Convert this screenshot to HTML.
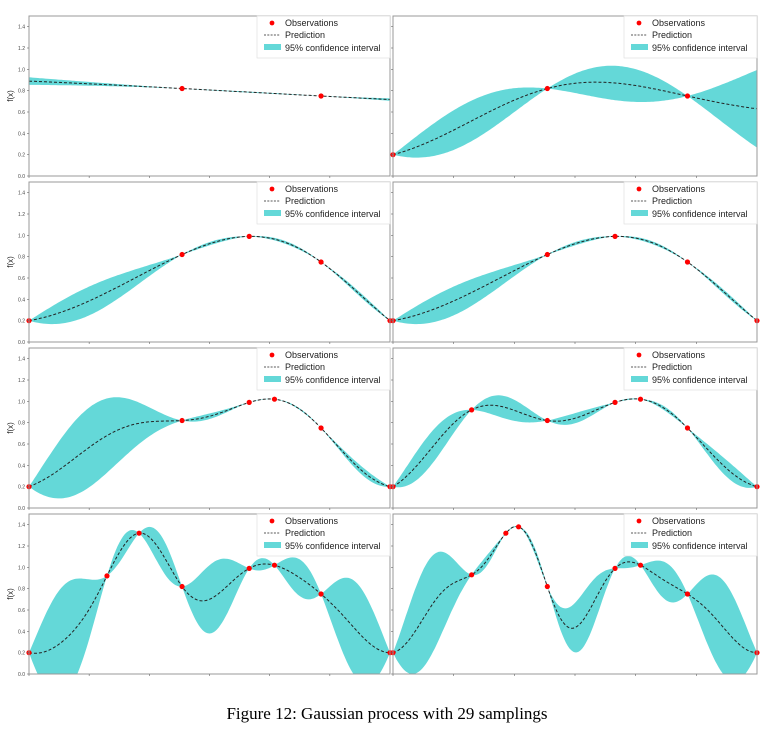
<!DOCTYPE html>
<html><head><meta charset="utf-8"><style>
body{margin:0;background:#fff;width:773px;height:732px;overflow:hidden}
svg{display:block}
</style></head><body>
<svg id="fig" width="773" height="732" viewBox="0 0 773 732" font-family="Liberation Sans, sans-serif"></svg>
<script>
// observation data per panel (x normalized 0..1, y = f(x))
const panelObsX = [
  [0.424, 0.809],
  [0.0, 0.424, 0.809],
  [0.0, 0.424, 0.61, 0.809, 1.0],
  [0.0, 0.424, 0.61, 0.809, 1.0],
  [0.0, 0.424, 0.61, 0.68, 0.809, 1.0],
  [0.0, 0.216, 0.424, 0.61, 0.68, 0.809, 1.0],
  [0.0, 0.216, 0.305, 0.424, 0.61, 0.68, 0.809, 1.0],
  [0.0, 0.216, 0.31, 0.345, 0.424, 0.61, 0.68, 0.809, 1.0]
];
const panelObsY = [
  [0.82, 0.75],
  [0.2, 0.82, 0.75],
  [0.2, 0.82, 0.99, 0.75, 0.2],
  [0.2, 0.82, 0.99, 0.75, 0.2],
  [0.2, 0.82, 0.99, 1.02, 0.75, 0.2],
  [0.2, 0.92, 0.82, 0.99, 1.02, 0.75, 0.2],
  [0.2, 0.92, 1.32, 0.82, 0.99, 1.02, 0.75, 0.2],
  [0.2, 0.93, 1.32, 1.38, 0.82, 0.99, 1.02, 0.75, 0.2]
];
// fitted kernel hyperparameters per panel
const lengthScales = [1.6, 0.33, 0.3, 0.3, 0.22, 0.16, 0.1, 0.095];
const amplitudes = [0.2, 0.4, 0.38, 0.38, 0.5, 0.3, 0.45, 0.4];
const yTicks = [0.0, 0.2, 0.4, 0.6, 0.8, 1.0, 1.2, 1.4];
const xTicks = [0, 1/6, 2/6, 3/6, 4/6, 5/6];

const NS = "http://www.w3.org/2000/svg";
const svg = document.getElementById('fig');
function mk(tag, attrs, parent){const e=document.createElementNS(NS,tag);for(const k in attrs)e.setAttribute(k,attrs[k]);(parent||svg).appendChild(e);return e;}

function gp(xs, ys, l, s, xq){
  const n=xs.length, m=ys.reduce((a,b)=>a+b,0)/n;
  const k=(a,b)=>s*s*Math.exp(-(a-b)*(a-b)/(2*l*l));
  const K=[];for(let i=0;i<n;i++){K.push([]);for(let j=0;j<n;j++)K[i].push(k(xs[i],xs[j])+(i===j?1e-7:0));}
  function solve(A,b){const M=A.map((r,i)=>r.concat([b[i]]));for(let c=0;c<n;c++){let p=c;for(let r=c+1;r<n;r++)if(Math.abs(M[r][c])>Math.abs(M[p][c]))p=r;[M[c],M[p]]=[M[p],M[c]];for(let r=0;r<n;r++){if(r===c)continue;const f=M[r][c]/M[c][c];for(let q=c;q<=n;q++)M[r][q]-=f*M[c][q];}}return M.map((r,i)=>r[n]/r[i]);}
  const alpha=solve(K,ys.map(v=>v-m));
  return xq.map(x=>{const kv=xs.map(a=>k(x,a));const mu=m+kv.reduce((acc,v,i)=>acc+v*alpha[i],0);const w=solve(K,kv);let v=s*s-kv.reduce((acc,q,i)=>acc+q*w[i],0);return [mu,Math.sqrt(Math.max(v,0))];});
}

const cols=[{x0:29,x1:390},{x0:393,x1:757}];
const tops=[16,182,348,514];
const H=160;
for(let p=0;p<8;p++){
  const c=cols[p%2], top=tops[Math.floor(p/2)], bot=top+H;
  const sx=v=>c.x0+v*(c.x1-c.x0);
  const sy=v=>bot-v/1.5*H;
  const g=mk('g',{});
  
  
  const cid='clip'+p;
  const cp=mk('clipPath',{id:cid},g);mk('rect',{x:c.x0,y:top,width:c.x1-c.x0,height:H},cp);
  const xq=[];for(let i=0;i<=200;i++)xq.push(i/200);
  const res=gp(panelObsX[p],panelObsY[p],lengthScales[p],amplitudes[p],xq);
  let up='',lo='',mid='';
  xq.forEach((x,i)=>{const [mu,sd]=res[i];up+=(i?'L':'M')+sx(x).toFixed(1)+','+sy(mu+1.96*sd).toFixed(1);mid+=(i?'L':'M')+sx(x).toFixed(1)+','+sy(mu).toFixed(1);});
  for(let i=xq.length-1;i>=0;i--){const [mu,sd]=res[i];lo+='L'+sx(xq[i]).toFixed(1)+','+sy(mu-1.96*sd).toFixed(1);}
  const band=mk('path',{d:up+lo+'Z',fill:'#64d8d8','clip-path':'url(#'+cid+')'},g);
  
  
  const line=mk('path',{d:mid,fill:'none',stroke:'#222','stroke-width':1,'stroke-dasharray':'3,2','clip-path':'url(#'+cid+')'},g);
  
  
  panelObsX[p].forEach((x,i)=>{const d=mk('circle',{cx:sx(x),cy:sy(panelObsY[p][i]),r:2.6,fill:'#f00'},g);
    
    });
  const fr=mk('rect',{x:c.x0,y:top,width:c.x1-c.x0,height:H,fill:'none',stroke:'#999','stroke-width':1},g);
  
  
  xTicks.forEach(t=>{mk('line',{x1:sx(t),x2:sx(t),y1:bot,y2:bot+2,stroke:'#666','stroke-width':0.6},g);});
  yTicks.forEach(t=>{mk('line',{x1:c.x0-2,x2:c.x0,y1:sy(t),y2:sy(t),stroke:'#666','stroke-width':0.6},g);
    if(p%2===0){const tx=mk('text',{x:c.x0-4,y:sy(t)+2,'font-size':5,'text-anchor':'end',fill:'#444'},g);tx.textContent=t.toFixed(1);
      
      }});
  if(p%2===0){const yl=mk('text',{x:0,y:0,'font-size':8,'text-anchor':'middle',fill:'#222',transform:`translate(13,${top+H/2}) rotate(-90)`},g);yl.textContent='f(x)';
    
    }
  // legend
  const lx=c.x1-133, ly=top;
  const lg=mk('g',{},g);
  
  
  mk('rect',{x:lx,y:ly,width:133,height:42,fill:'#fff','fill-opacity':0.85,stroke:'#ddd','stroke-width':0.6},lg);
  mk('circle',{cx:lx+15,cy:ly+7,r:2.4,fill:'#f00'},lg);
  mk('line',{x1:lx+7,x2:lx+23,y1:ly+19,y2:ly+19,stroke:'#222','stroke-width':0.8,'stroke-dasharray':'2,1.3'},lg);
  mk('rect',{x:lx+7,y:ly+28,width:17,height:6,fill:'#64d8d8'},lg);
  [['Observations',10],['Prediction',22],['95% confidence interval',35]].forEach(([t,dy])=>{const tx=mk('text',{x:lx+28,y:ly+dy,'font-size':9,fill:'#222'},lg);tx.textContent=t;
    
    });
}
const cap=mk('text',{x:387,y:719,'font-size':17,'text-anchor':'middle','font-family':'Liberation Serif, serif',fill:'#000'});
cap.textContent='Figure 12: Gaussian process with 29 samplings';


</script>
</body></html>
